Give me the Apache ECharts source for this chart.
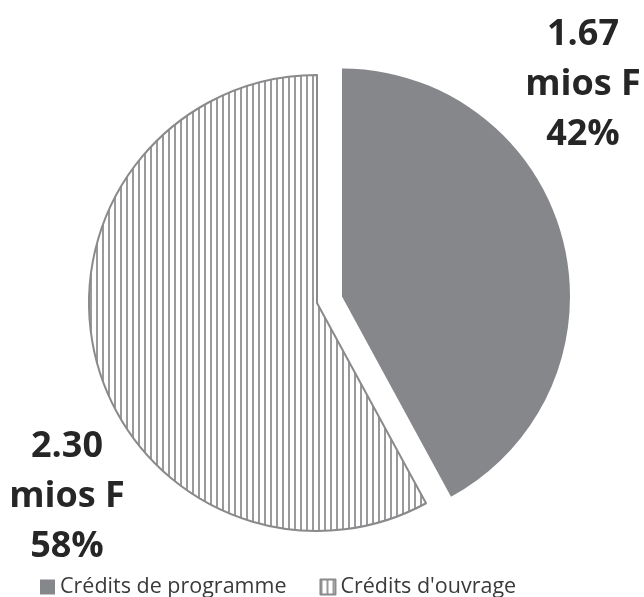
<!DOCTYPE html>
<html>
<head>
<meta charset="utf-8">
<script src="https://cdn.jsdelivr.net/npm/echarts@6/dist/echarts.min.js"></script>
<style>html,body{margin:0;padding:0;background:#fff}#chart{width:644px;height:597px}</style>
</head>
<body>
<div id="chart"></div>
<script>
const categories = ['Crédits de programme', "Crédits d'ouvrage"];
const values = [1.67, 2.30];
const unit = 'mios F';

function hatch() {
  const c = document.createElement('canvas');
  c.width = 6; c.height = 6;
  const g = c.getContext('2d');
  g.fillStyle = '#ffffff';
  g.fillRect(0, 0, 6, 6);
  g.fillStyle = '#9a9a9c';
  g.fillRect(0, 0, 2, 6);
  return c;
}
const pattern = { image: hatch(), repeat: 'repeat' };

const labelPos = [
  { x: 583, y: 85 },
  { x: 67, y: 497 }
];
const styles = [
  { color: '#86878b', borderColor: '#86878b', borderWidth: 0 },
  { color: pattern, borderColor: '#8a8a8c', borderWidth: 2 }
];
// the exploded slice is drawn by its own pie, shifted along its bisector
const centers = [[342, 296.5], [317, 303]];

const labelBase = {
  show: true,
  position: 'inside',
  overflow: 'none',
  fontFamily: 'Open Sans',
  fontWeight: 'bold',
  fontSize: 36,
  lineHeight: 50,
  color: '#262626',
  align: 'center',
  formatter: p => p.value.toFixed(2) + '\n' + unit + '\n' + Math.round(p.percent) + '%'
};

function makeSeries(k) {
  return {
    type: 'pie',
    center: centers[k],
    radius: 228,
    startAngle: 90,
    clockwise: true,
    emphasis: { disabled: true },
    labelLine: { show: false },
    label: labelBase,
    labelLayout: p => ({
      x: labelPos[k].x,
      y: labelPos[k].y,
      align: 'center',
      verticalAlign: 'middle'
    }),
    data: categories.map((name, i) => i === k
      ? { name: name, value: values[i], itemStyle: styles[i] }
      : { name: '_' + i, value: values[i], itemStyle: { color: 'transparent', borderWidth: 0 },
          label: { show: false } })
  };
}

const chart = echarts.init(document.getElementById('chart'));
chart.setOption({
  animation: false,
  legend: {
    left: 35,
    top: 571,
    icon: 'rect',
    itemWidth: 15,
    itemHeight: 15,
    itemGap: 33,
    textStyle: { fontFamily: 'Open Sans', fontSize: 21.5, color: '#3a3a3a' },
    data: categories
  },
  series: [makeSeries(0), makeSeries(1)]
});
</script>
</body>
</html>
